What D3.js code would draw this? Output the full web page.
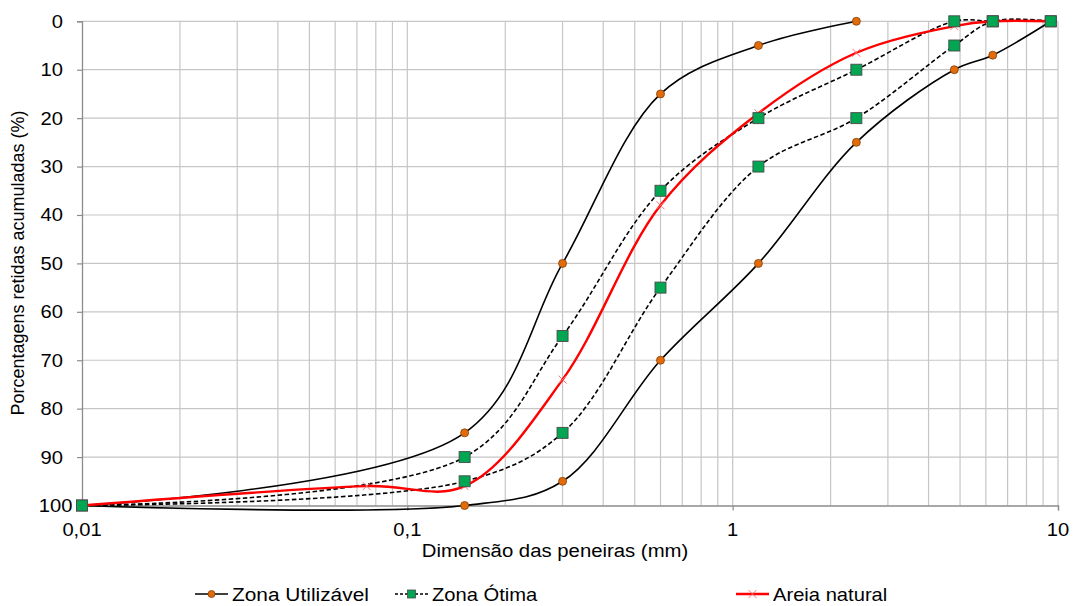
<!DOCTYPE html>
<html>
<head>
<meta charset="utf-8">
<script src="https://cdn.jsdelivr.net/npm/d3@7"></script>
<style>
html,body{margin:0;padding:0;background:#fff;}
svg{display:block;font-family:"Liberation Sans",Arial,sans-serif;}
</style>
</head>
<body>
<svg id="chart" width="1074" height="606"></svg>
<script>
// ---- data ----
const sieves = [0.01, 0.15, 0.3, 0.6, 1.2, 2.4, 4.8, 6.3, 9.5];
const utilLowerX = [0.01, 0.15, 0.3, 0.6, 1.2, 2.4];
const utilLower = [100, 85, 50, 15, 5, 0];
const utilUpper = [100, 100, 95, 70, 50, 25, 10, 7, 0];
const otimaLower = [100, 90, 65, 35, 20, 10, 0, 0, 0];
const otimaUpper = [100, 95, 85, 55, 30, 20, 5, 0, 0];
const areiaX = [0.01, 0.075, 0.15, 0.3, 0.6, 1.2, 2.4, 4.8, 6.3, 9.5];
const areia = [100, 96, 96, 74, 38, 19, 6.5, 1, 0, 0];
const xTickValues = [0.01, 0.1, 1, 10];
const xTickLabels = ["0,01", "0,1", "1", "10"];
const yTickValues = [0, 10, 20, 30, 40, 50, 60, 70, 80, 90, 100];
const seriesNames = ["Zona Utilizável", "Zona Ótima", "Areia natural"];

// ---- layout ----
const svg = d3.select("#chart");
const L = 82, R = 1058, T = 21.3, B = 505.5;
const x = d3.scaleLog().domain([0.01, 10]).range([L, R]);
const y = d3.scaleLinear().domain([0, 100]).range([T, B]);
const gridColor = "#c6c6c6";
const axisColor = "#8c8c8c";

// vertical gridlines (log minor + major)
const vLines = [];
for (let d = 0.01; d < 10; d *= 10) {
  for (let k = 1; k <= 9; k++) vLines.push(+(d * k).toPrecision(3));
}
vLines.push(10);
svg.append("g").selectAll("line").data(vLines.filter(v => v > 0.01)).join("line")
  .attr("x1", d => x(d)).attr("x2", d => x(d))
  .attr("y1", T).attr("y2", B)
  .attr("stroke", gridColor).attr("stroke-width", 1.2);

// horizontal gridlines
svg.append("g").selectAll("line").data(yTickValues.filter(v => v < 100)).join("line")
  .attr("x1", L).attr("x2", R)
  .attr("y1", d => y(d)).attr("y2", d => y(d))
  .attr("stroke", gridColor).attr("stroke-width", 1.2);

// axes
const yAxis = d3.axisLeft(y).tickValues(yTickValues).tickSize(5).tickPadding(0).tickFormat(() => "");
const gy = svg.append("g").attr("transform", `translate(${L},0)`).call(yAxis);
gy.select(".domain").attr("stroke", axisColor).attr("stroke-width", 1.3);
gy.selectAll(".tick line").attr("stroke", axisColor).attr("stroke-width", 1.2);

const xAxis = d3.axisBottom(x).tickValues(xTickValues).tickSize(5).tickFormat(() => "");
const gx = svg.append("g").attr("transform", `translate(0,${B})`).call(xAxis);
gx.select(".domain").attr("stroke", axisColor).attr("stroke-width", 1.3);
gx.selectAll(".tick line").attr("stroke", axisColor).attr("stroke-width", 1.2);

const SX = 1.12;
function label(g, tx, ty, text, size, anchor, sx) {
  const t = g.append("g").attr("transform", `translate(${tx},${ty}) scale(${sx || SX},1)`)
    .append("text").attr("x", 0).attr("y", 0)
    .attr("font-size", size).attr("fill", "#000").attr("text-anchor", anchor).text(text);
  return t;
}

const labels = svg.append("g");
yTickValues.forEach((v, i) => {
  const dx = v === 100 ? 9.5 : 0;
  label(labels, 63 + dx, y(v) + 6.5, String(v), 18, "end");
});
xTickValues.forEach((v, i) => {
  label(labels, x(v), 536, xTickLabels[i], 18, "middle");
});
label(labels, 555, 556.5, "Dimensão das peneiras (mm)", 18, "middle", 1.13);

svg.append("text")
  .attr("transform", `translate(24,263) rotate(-90)`)
  .attr("font-size", 18).attr("text-anchor", "middle").attr("fill", "#000")
  .text("Porcentagens retidas acumuladas (%)");

// ---- series ----
const curve = d3.curveCatmullRom.alpha(0.5);
const line = d3.line().x(d => x(d[0])).y(d => y(d[1])).curve(curve);
const zip = (xs, ys) => xs.map((v, i) => [v, ys[i]]);

const sUL = zip(utilLowerX, utilLower);
const sUU = zip(sieves, utilUpper);
const sOL = zip(sieves, otimaLower);
const sOU = zip(sieves, otimaUpper);
const sA = zip(areiaX, areia);

const lines = svg.append("g").attr("fill", "none");
[sUL, sUU].forEach(s => lines.append("path").attr("d", line(s))
  .attr("stroke", "#000").attr("stroke-width", 1.6));
[sOL, sOU].forEach(s => lines.append("path").attr("d", line(s))
  .attr("stroke", "#000").attr("stroke-width", 1.6).attr("stroke-dasharray", "4.5,2.5"));
lines.append("path").attr("d", line(sA))
  .attr("stroke", "#ff0000").attr("stroke-width", 2.4);

// markers
const orange = "#e36c0a", orangeStroke = "#7f3f0a";
const green = "#00a651", greenStroke = "#4a4a4a";
const xColor = "#ff7070";

const mk = svg.append("g");
function drawCircles(s) {
  mk.append("g").selectAll("circle").data(s).join("circle")
    .attr("cx", d => x(d[0])).attr("cy", d => y(d[1])).attr("r", 4)
    .attr("fill", orange).attr("stroke", orangeStroke).attr("stroke-width", 0.8);
}
function drawSquares(s) {
  mk.append("g").selectAll("rect").data(s).join("rect")
    .attr("x", d => x(d[0]) - 5.5).attr("y", d => y(d[1]) - 5.5)
    .attr("width", 11).attr("height", 11)
    .attr("fill", green).attr("stroke", greenStroke).attr("stroke-width", 0.9);
}
function drawCrosses(s) {
  mk.append("g").selectAll("path").data(s).join("path")
    .attr("d", d => { const cx = x(d[0]), cy = y(d[1]), r = 4;
      return `M${cx-r},${cy-r}L${cx+r},${cy+r}M${cx-r},${cy+r}L${cx+r},${cy-r}`; })
    .attr("stroke", xColor).attr("stroke-width", 1).attr("fill", "none");
}
drawCrosses(sA);
drawCircles(sUL);
drawCircles(sUU);
drawSquares(sOL);
drawSquares(sOU);

// ---- legend ----
const lg = svg.append("g");
const legendItems = [
  {x0: 195, name: seriesNames[0], type: "circle"},
  {x0: 395, name: seriesNames[1], type: "square"},
  {x0: 736, name: seriesNames[2], type: "cross"}
];
const ly = 594;
legendItems.forEach(it => {
  const g = lg.append("g");
  const x1 = it.x0, x2 = it.x0 + 33, cx = (x1 + x2) / 2;
  if (it.type === "circle") {
    g.append("line").attr("x1", x1).attr("x2", x2).attr("y1", ly).attr("y2", ly)
      .attr("stroke", "#000").attr("stroke-width", 1.6);
    g.append("circle").attr("cx", cx).attr("cy", ly).attr("r", 3.5)
      .attr("fill", orange).attr("stroke", orangeStroke).attr("stroke-width", 0.8);
  } else if (it.type === "square") {
    g.append("line").attr("x1", x1).attr("x2", x2).attr("y1", ly).attr("y2", ly)
      .attr("stroke", "#000").attr("stroke-width", 1.5).attr("stroke-dasharray", "3,2");
    g.append("rect").attr("x", cx - 4).attr("y", ly - 4).attr("width", 8).attr("height", 8)
      .attr("fill", green).attr("stroke", greenStroke).attr("stroke-width", 0.8);
  } else {
    g.append("line").attr("x1", x1).attr("x2", x2).attr("y1", ly).attr("y2", ly)
      .attr("stroke", "#ff0000").attr("stroke-width", 2.4);
    g.append("path").attr("d", `M${cx-4},${ly-4}L${cx+4},${ly+4}M${cx-4},${ly+4}L${cx+4},${ly-4}`)
      .attr("stroke", xColor).attr("stroke-width", 1);
  }
  label(g, x2 + 4, ly + 6.5, it.name, 18, "start", it.type === "circle" ? 1.16 : 1.12);
});
</script>
</body>
</html>
